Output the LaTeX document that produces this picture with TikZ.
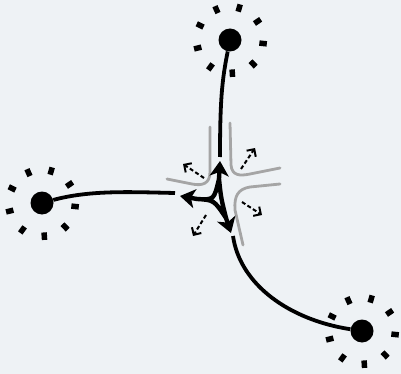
\documentclass[tikz,border=0pt]{standalone}
\usetikzlibrary{arrows.meta}
\definecolor{bgc}{RGB}{238,242,245}
\definecolor{roadgray}{RGB}{165,165,165}
\begin{document}
\begin{tikzpicture}[x=1pt,y=-1pt,
 hub/.style={circle,fill=black,minimum size=23pt,inner sep=0pt},
 blk/.style={line width=3.8pt,black},
 road/.style={line width=2.8pt,roadgray,line cap=round},
 flow/.style={line width=2pt,dash pattern=on 4pt off 2.5pt,-{Straight Barb[length=5.5pt,width=11pt]}},
 ctr/.style={line width=4.4pt,-{Stealth[length=15pt,width=19pt,inset=4pt]}},
 tick/.style={line width=5.5pt,black}
]
\fill[bgc] (0,0) rectangle (401,374);
\useasboundingbox (0,0) rectangle (401,374);

% hubs
\node[hub] (t) at (230,40) {};
\node[hub] (l) at (42,203) {};
\node[hub] (r) at (362,331) {};
\foreach \n in {t,l,r}{
  \foreach \a in {-34,6,46,86,126,166,206,246,286}{
    \draw[tick] ([shift={(\a:29.5)}]\n.center) -- ([shift={(\a:37)}]\n.center);
  }
}

% road edges
\draw[road] (210,127) -- (210,172) .. controls (210,184) and (202,186) .. (192,184) -- (167,179);
\draw[road] (230,123) -- (231,165) .. controls (232,176) and (240,176) .. (250,174) -- (280,168);
\draw[road] (280,184) -- (250,187) .. controls (238,189) and (234,196) .. (235,210) -- (243,245);

% long connectors
\coordinate (te) at (220,157);
\coordinate (le) at (175,193);
\coordinate (re) at (233,236);
\draw[blk] (t) .. controls (222,80) and (220,100) .. (te);
\draw[blk] (l) .. controls (90,190) and (130,192) .. (le);
\draw[blk] (re) .. controls (240,285) and (290,320) .. (r);

% centre figure
\coordinate (A) at (219,179);
\coordinate (B) at (197,199);
\coordinate (C) at (226,218);
\coordinate (M) at (214,200);
\coordinate (tA) at (220,161);
\coordinate (tB) at (180,196);
\coordinate (tC) at (231,233);
\draw[blk,line width=4.4pt,line join=round] (A) .. controls (M) .. (B) .. controls (M) .. (C) .. controls (221,198) .. (A);
\draw[ctr] (A) -- (tA);
\draw[ctr] (B) -- (tB);
\draw[ctr] (C) -- (tC);

% flow arrows
\coordinate (f1s) at (204,178); \coordinate (f1e) at (183,164);
\coordinate (f2s) at (241,169); \coordinate (f2e) at (255,148);
\coordinate (f3s) at (242,202); \coordinate (f3e) at (262,215);
\coordinate (f4s) at (206,215); \coordinate (f4e) at (193,236);
\draw[flow] (f1s) -- (f1e);
\draw[flow] (f2s) -- (f2e);
\draw[flow] (f3s) -- (f3e);
\draw[flow] (f4s) -- (f4e);
\end{tikzpicture}
\end{document}
